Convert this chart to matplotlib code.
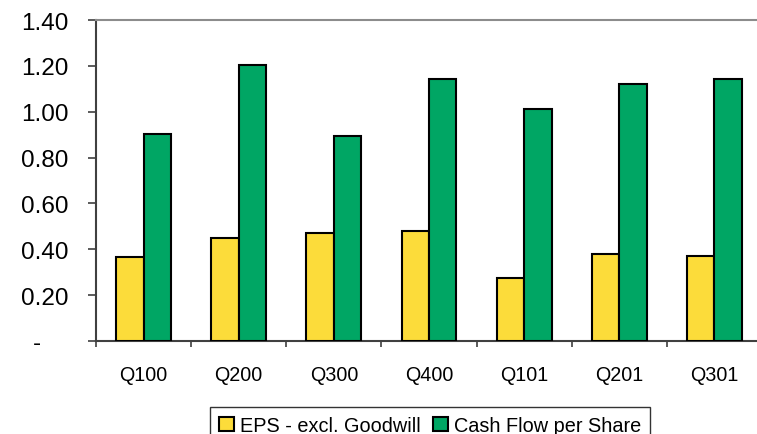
import numpy as np
import matplotlib
matplotlib.use("Agg")
from matplotlib import pyplot as plt
from matplotlib.transforms import ScaledTranslation

# dados
trimestres = ["Q100", "Q200", "Q300", "Q400", "Q101", "Q201", "Q301"]
eps_excl_goodwill = [0.365, 0.449, 0.471, 0.481, 0.275, 0.381, 0.371]
cash_flow_por_acao = [0.903, 1.205, 0.895, 1.143, 1.012, 1.122, 1.144]
y_ticks = [0, 0.2, 0.4, 0.6, 0.8, 1.0, 1.2, 1.4]
y_labels = ["-", "0.20", "0.40", "0.60", "0.80", "1.00", "1.20", "1.40"]

plt.rcParams["font.family"] = ["Liberation Sans", "DejaVu Sans"]

amarelo = "#FCDC3A"
verde = "#00A664"

fig = plt.figure(figsize=(7.57, 4.35), dpi=100)
ax = fig.add_axes([96 / 757, 1 - 342 / 435, 666 / 757, 321 / 435])

x = np.arange(len(trimestres))
largura = 0.289
ax.bar(x - largura / 2, eps_excl_goodwill, largura, color=amarelo,
       edgecolor="black", linewidth=1.5, label="EPS - excl. Goodwill", zorder=3)
ax.bar(x + largura / 2, cash_flow_por_acao, largura, color=verde,
       edgecolor="black", linewidth=1.5, label="Cash Flow per Share", zorder=3)

ax.set_xlim(-0.5, len(trimestres) - 0.5)
ax.set_ylim(0, 1.4)

# eixo y
ax.set_yticks(y_ticks)
ax.set_yticklabels(y_labels, fontsize=17.5)
ax.tick_params(axis="y", direction="out", length=6, width=1.2, color="#404040", pad=14)
# o "-" do zero fica deslocado para a esquerda (formato contabil)
zero_label = ax.get_yticklabels()[0]
zero_label.set_transform(zero_label.get_transform() + ScaledTranslation(-27 / 100, 0, fig.dpi_scale_trans))

# eixo x: rotulos no centro, tracinhos nas divisoes
ax.set_xticks(x)
ax.set_xticklabels(trimestres, fontsize=14.2)
ax.tick_params(axis="x", which="major", length=0, pad=17)
ax.set_xticks(np.arange(-0.5, len(trimestres), 1), minor=True)
ax.tick_params(axis="x", which="minor", direction="out", length=4.5, width=1.2, color="#404040")

ax.spines["left"].set_color("#404040")
ax.spines["left"].set_linewidth(1.5)
ax.spines["bottom"].set_color("#404040")
ax.spines["bottom"].set_linewidth(1.5)
ax.spines["top"].set_color("#8C8C8C")
ax.spines["top"].set_linewidth(1.5)
ax.spines["right"].set_visible(False)

leg = fig.legend(loc="upper center", bbox_to_anchor=(430 / 757, 1 - 408 / 435),
                 ncol=2, fontsize=14.3, frameon=True, fancybox=False,
                 edgecolor="black", handlelength=0.75, handleheight=0.75,
                 handletextpad=0.3, columnspacing=0.6, borderpad=0.45,
                 borderaxespad=0)
leg.get_frame().set_linewidth(1.0)

fig.savefig("out.png", dpi=100)
